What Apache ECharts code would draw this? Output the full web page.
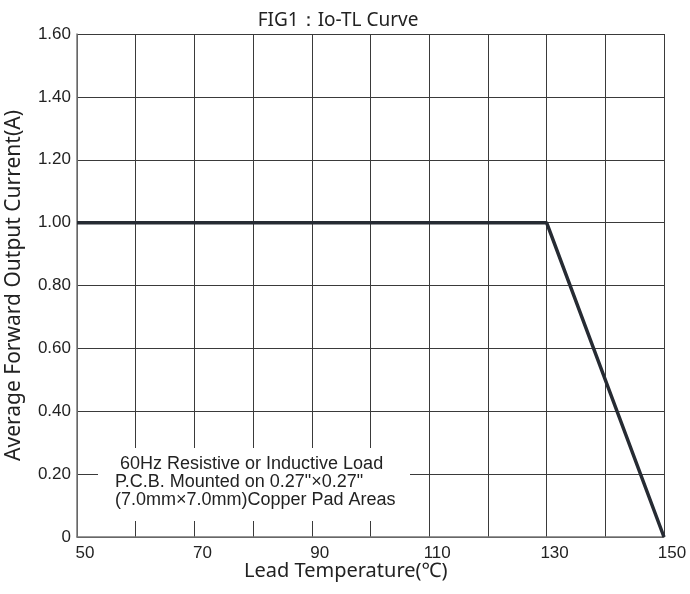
<!DOCTYPE html>
<html>
<head>
<meta charset="utf-8">
<script src="https://cdn.jsdelivr.net/npm/echarts@6/dist/echarts.min.js"></script>
<style>html,body{margin:0;padding:0;background:#fff}#c{width:690px;height:594px}</style>
</head>
<body>
<div id="c"></div>
<script>
var temperature = [50, 130, 150];
var current = [1.00, 1.00, 0];
var xTickLabels = [50, 70, 90, 110, 130, 150];
var titleText = 'FIG1：Io-TL Curve';
var xName = 'Lead Temperature(℃)';
var yName = 'Average Forward Output Current(A)';
var noteLines = [' 60Hz Resistive or Inductive Load', 'P.C.B. Mounted on 0.27"×0.27"', '(7.0mm×7.0mm)Copper Pad Areas'];

var chart = echarts.init(document.getElementById('c'));
var pts = temperature.map(function (t, i) { return [t, current[i]]; });
var gridColor = '#3a3a3a';
chart.setOption({
  animation: false,
  backgroundColor: '#fff',
  title: {
    text: titleText, left: 333, top: 6, textAlign: 'center',
    textStyle: { fontFamily: 'Noto Sans', fontSize: 19, fontWeight: 'normal', color: '#222' }
  },
  grid: { left: 77, right: 26, top: 34, bottom: 57, containLabel: false, outerBoundsMode: 'none' },
  xAxis: {
    type: 'value', min: 50, max: 150, interval: 10,
    axisLine: { lineStyle: { color: '#777', width: 1.5 } },
    axisTick: { show: false },
    splitLine: { show: true, lineStyle: { color: gridColor, width: 1 } },
    axisLabel: {
      margin: 8, padding: [0, 0, 0, 16],
      fontFamily: 'Liberation Sans', fontSize: 17, color: '#222',
      formatter: function (v) { return xTickLabels.indexOf(v) >= 0 ? String(v) : ''; }
    }
  },
  yAxis: {
    type: 'value', min: 0, max: 1.6, interval: 0.2,
    name: yName, nameLocation: 'middle', nameGap: 52,
    nameTextStyle: { fontFamily: 'Noto Sans', fontSize: 21, color: '#222' },
    axisLine: { show: true, lineStyle: { color: '#777', width: 1.5 } },
    axisTick: { show: false },
    splitLine: { show: true, lineStyle: { color: gridColor, width: 1 } },
    axisLabel: {
      margin: 6, fontFamily: 'Liberation Sans', fontSize: 17, color: '#222',
      formatter: function (v) { return v === 0 ? '0' : v.toFixed(2); }
    }
  },
  series: [{
    type: 'line', data: pts, symbol: 'none', z: 5,
    lineStyle: { color: '#262b33', width: 3.5 }
  }],
  graphic: [
    { type: 'rect', z: 100, shape: { x: 98, y: 448, width: 312, height: 73 }, style: { fill: '#fff' } },
    { type: 'text', z: 101, left: 115, top: 455,
      style: { text: noteLines.join('\n'), font: '18px "Liberation Sans"', lineHeight: 18, fill: '#222' } },
    { type: 'text', z: 101, left: 244, top: 561,
      style: { text: xName, font: '20px "Noto Sans"', fill: '#222' } }
  ]
});
</script>
</body>
</html>
